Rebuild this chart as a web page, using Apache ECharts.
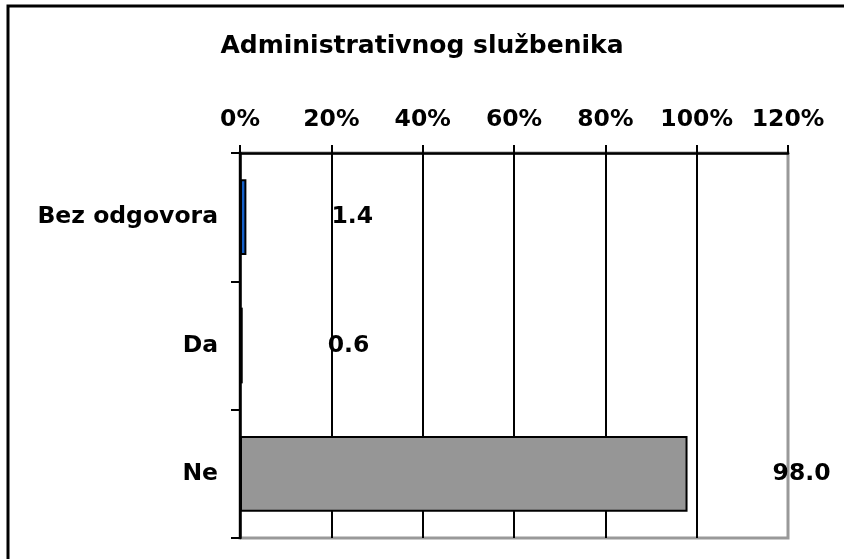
<!DOCTYPE html>
<html>
<head>
<meta charset="utf-8">
<script src="https://cdn.jsdelivr.net/npm/echarts@6/dist/echarts.min.js"></script>
<style>
  html, body { margin: 0; padding: 0; background: #fff; }
  #main { width: 844px; height: 559px; }
</style>
</head>
<body>
<div id="main"></div>
<script>
// podaci
var categories = ['Bez odgovora', 'Da', 'Ne'];
var values = [1.4, 0.6, 98.0];
var barColors = ['#1560c8', '#3a0505', '#969696'];
var axisMax = 120;
var axisStep = 20;

var font = 'DejaVu Sans';
var chart = echarts.init(document.getElementById('main'));

chart.setOption({
  backgroundColor: '#fff',
  animation: false,
  title: {
    text: 'Administrativnog službenika',
    left: 'center',
    top: 29,
    textStyle: { fontFamily: font, fontWeight: 'bold', fontSize: 25, color: '#000' }
  },
  graphic: [{
    type: 'rect',
    shape: { x: 8, y: 6, width: 860, height: 580 },
    style: { fill: 'none', stroke: '#000', lineWidth: 3 },
    silent: true
  }],
  grid: {
    left: 240, right: 56, top: 153, bottom: 21,
    show: true, borderColor: '#999', borderWidth: 3, backgroundColor: 'transparent'
  },
  xAxis: {
    type: 'value',
    position: 'top',
    min: 0, max: axisMax, interval: axisStep,
    axisLine: { show: true, lineStyle: { color: '#000', width: 2.5 } },
    axisTick: { show: true, length: 8, lineStyle: { color: '#000', width: 2 } },
    axisLabel: {
      margin: 21,
      formatter: '{value}%',
      fontFamily: font, fontWeight: 'bold', fontSize: 23.5, color: '#000'
    },
    splitLine: {
      show: true,
      lineStyle: { color: ['#000', '#000', '#000', '#000', '#000', '#000', '#999'], width: 2 }
    }
  },
  yAxis: {
    type: 'category',
    inverse: true,
    data: categories,
    axisLine: { show: true, lineStyle: { color: '#000', width: 2.5 } },
    axisTick: { show: true, length: 9, lineStyle: { color: '#000', width: 2 } },
    axisLabel: {
      margin: 22,
      fontFamily: font, fontWeight: 'bold', fontSize: 23.5, color: '#000'
    }
  },
  series: [{
    type: 'bar',
    barWidth: '59%',
    data: values.map(function (v, i) {
      return { value: v, itemStyle: { color: barColors[i], borderColor: '#000', borderWidth: 2 } };
    }),
    label: {
      show: true,
      position: 'right',
      distance: 85,
      formatter: function (p) { return p.value.toFixed(1); },
      fontFamily: font, fontWeight: 'bold', fontSize: 23.5, color: '#000'
    }
  }]
});
</script>
</body>
</html>
